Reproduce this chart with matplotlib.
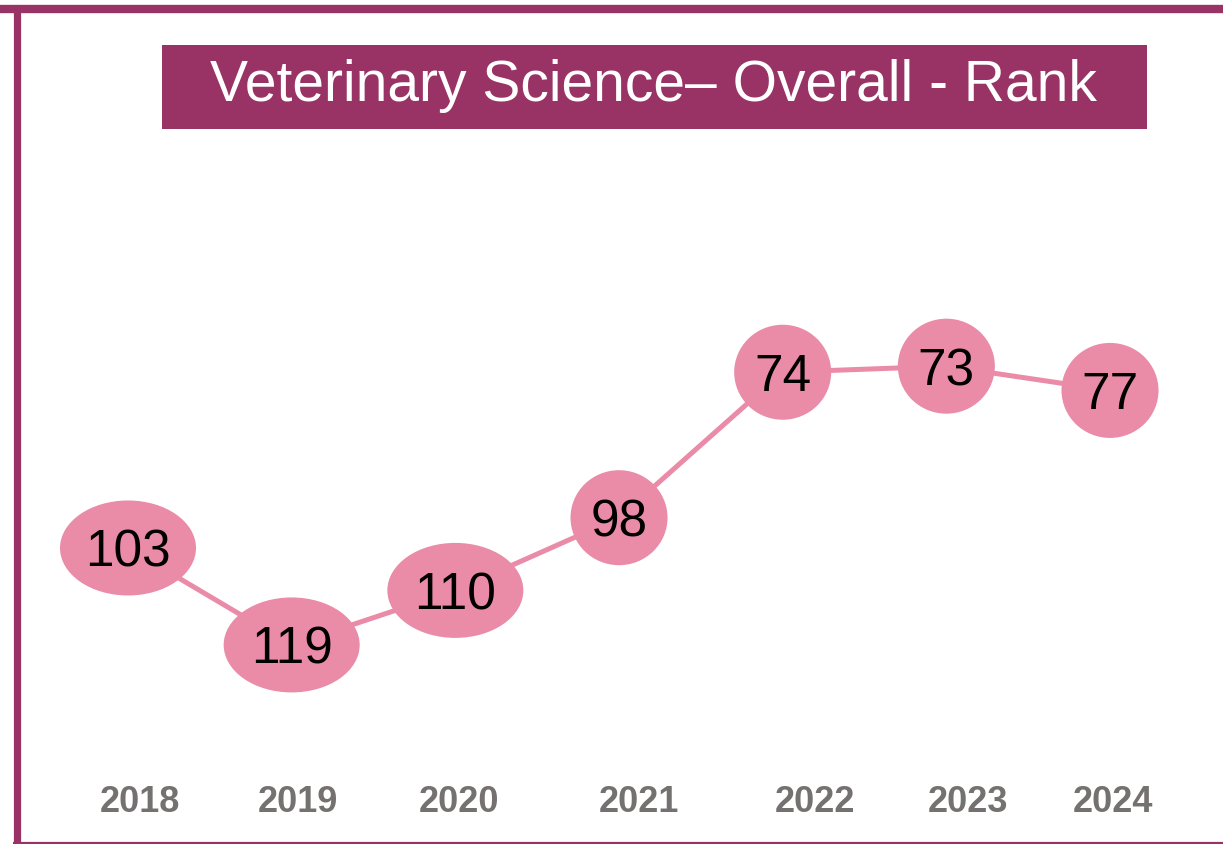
import matplotlib
matplotlib.use("Agg")
import matplotlib.pyplot as plt
from matplotlib.patches import Ellipse, Rectangle
from matplotlib.lines import Line2D
import matplotlib.transforms as mtransforms

# Data
years = ["2018", "2019", "2020", "2021", "2022", "2023", "2024"]
ranks = [103, 119, 110, 98, 74, 73, 77]

# small horizontal nudges of the year labels (in category units)
label_nudge = [0.07, 0.04, 0.02, 0.12, 0.2, 0.13, 0.02]

PURPLE = "#993366"
PINK = "#EA8BA8"
GREY = "#767171"

W, H = 1223, 844


def main():
    fig = plt.figure(figsize=(W / 100, H / 100), dpi=100)

    # outer frame
    fig.add_artist(Line2D([0, 1], [1 - 9 / H, 1 - 9 / H], color=PURPLE, lw=6, solid_capstyle="butt"))
    fig.add_artist(Line2D([16.5 / W, 16.5 / W], [0, 1 - 5 / H], color=PURPLE, lw=5.2, solid_capstyle="butt"))
    fig.add_artist(Line2D([13 / W, 1], [1.2 / H, 1.2 / H], color=PURPLE, lw=1.6, solid_capstyle="butt"))

    # title box
    fig.add_artist(Rectangle((162 / W, 1 - 129 / H), (1147 - 162) / W, 84 / H,
                             transform=fig.transFigure, color=PURPLE, lw=0))
    fig.text(653 / W, 1 - 86 / H, "Veterinary Science\u2013 Overall - Rank", color="white",
             fontsize=41, family="Liberation Sans", ha="center", va="center")

    # plot axes: x index 0..6, y rank inverted
    x0, dx = 128.0, 163.67
    left = x0 - 0.5 * dx
    ax = fig.add_axes([left / W, (H - 711.6) / H, 7 * dx / W, 424.2 / H])
    ax.set_xlim(-0.5, 6.5)
    ax.set_ylim(130, 60)
    ax.axis("off")

    xs = list(range(len(years)))
    ax.plot(xs, ranks, color=PINK, lw=3.6, zorder=1, solid_capstyle="butt")

    px_x = dx  # pixels per x unit
    px_y = 424.2 / 70  # pixels per y unit
    for x, r in zip(xs, ranks):
        label = str(r)
        w_px = 136 if len(label) > 2 else 97
        h_px = 95
        ax.add_patch(Ellipse((x, r), w_px / px_x, h_px / px_y, color=PINK, lw=0, zorder=2))
        ax.text(x, r, label, ha="center", va="center_baseline", fontsize=37,
                family="Liberation Sans", color="black", zorder=3)

    trans = mtransforms.blended_transform_factory(ax.transData, fig.transFigure)
    for x, yr, nud in zip(xs, years, label_nudge):
        ax.text(x + nud, 1 - 802 / H, yr, transform=trans, ha="center", va="center",
                fontsize=26, fontweight="bold", family="Liberation Sans", color=GREY)

    fig.savefig("out.png", dpi=100)


if __name__ == "__main__":
    main()
